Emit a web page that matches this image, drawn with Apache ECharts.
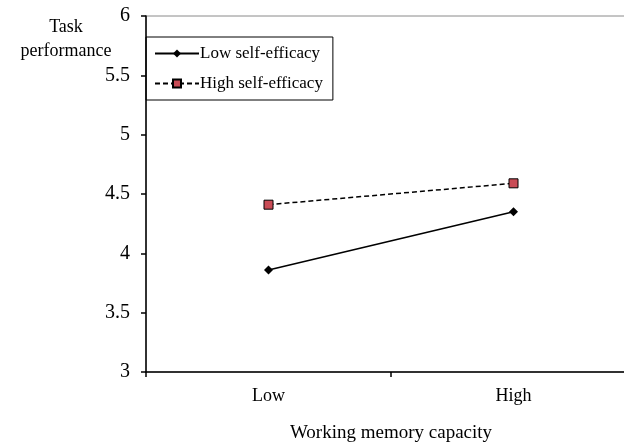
<!DOCTYPE html>
<html>
<head>
<meta charset="utf-8">
<script src="https://cdn.jsdelivr.net/npm/echarts@6/dist/echarts.min.js"></script>
<style>
html,body{margin:0;padding:0;background:#fff;}
#c{width:624px;height:445px;}
</style>
</head>
<body>
<div id="c"></div>
<script>
var categories = ['Low', 'High'];
var lowSelfEfficacy = [3.86, 4.35];
var highSelfEfficacy = [4.41, 4.59];
var seriesNames = ['Low self-efficacy', 'High self-efficacy'];
var yTicks = [3, 3.5, 4, 4.5, 5, 5.5, 6];
var yAxisTitle = 'Task\nperformance';
var xAxisTitle = 'Working memory capacity';

var FONT = '"Liberation Serif", "Times New Roman", serif';
var chart = echarts.init(document.getElementById('c'));
chart.setOption({
  animation: false,
  backgroundColor: '#fff',
  textStyle: {fontFamily: FONT},
  grid: {left: 146, right: -12, top: 16, bottom: 73, show: true, borderColor: '#8a8a8a', borderWidth: 1, containLabel: false, outerBoundsMode: 'none'},
  graphic: [{
    type: 'text', x: 66, y: 15,
    style: {text: yAxisTitle, fill: '#000', font: '18px ' + FONT, align: 'center', verticalAlign: 'top', lineHeight: 24}
  }],
  legend: {
    orient: 'vertical',
    left: 146, top: 37,
    padding: [8, 10, 8, 8],
    itemGap: 13,
    itemWidth: 44, itemHeight: 10,
    borderColor: '#000', borderWidth: 1,
    textStyle: {fontFamily: FONT, fontSize: 17, color: '#000', padding: [0, 0, 0, -4]},
    data: seriesNames
  },
  xAxis: {
    type: 'category',
    data: categories,
    boundaryGap: true,
    axisLine: {lineStyle: {color: '#000', width: 1.5}},
    axisTick: {show: true, length: 5, lineStyle: {color: '#000', width: 1.5}},
    axisLabel: {color: '#000', fontFamily: FONT, fontSize: 18, margin: 15},
    name: xAxisTitle,
    nameLocation: 'middle',
    nameGap: 52,
    nameTextStyle: {color: '#000', fontFamily: FONT, fontSize: 19}
  },
  yAxis: {
    type: 'value',
    min: yTicks[0], max: yTicks[yTicks.length - 1], interval: 0.5,
    splitLine: {show: false},
    axisLine: {show: true, lineStyle: {color: '#000', width: 1.5}},
    axisTick: {show: true, length: 5, lineStyle: {color: '#000', width: 1.5}},
    axisLabel: {color: '#000', fontFamily: FONT, fontSize: 20, margin: 16}
  },
  series: [
    {
      name: seriesNames[0], type: 'line', data: lowSelfEfficacy,
      symbol: 'diamond', symbolSize: 9,
      lineStyle: {color: '#000', width: 1.6, type: 'solid'},
      itemStyle: {color: '#000', borderColor: '#000', borderWidth: 0}
    },
    {
      name: seriesNames[1], type: 'line', data: highSelfEfficacy,
      symbol: 'rect', symbolSize: 9,
      lineStyle: {color: '#000', width: 1.5, type: [5, 3]},
      itemStyle: {color: '#c94c56', borderColor: '#000', borderWidth: 1}
    }
  ]
});
</script>
</body>
</html>
